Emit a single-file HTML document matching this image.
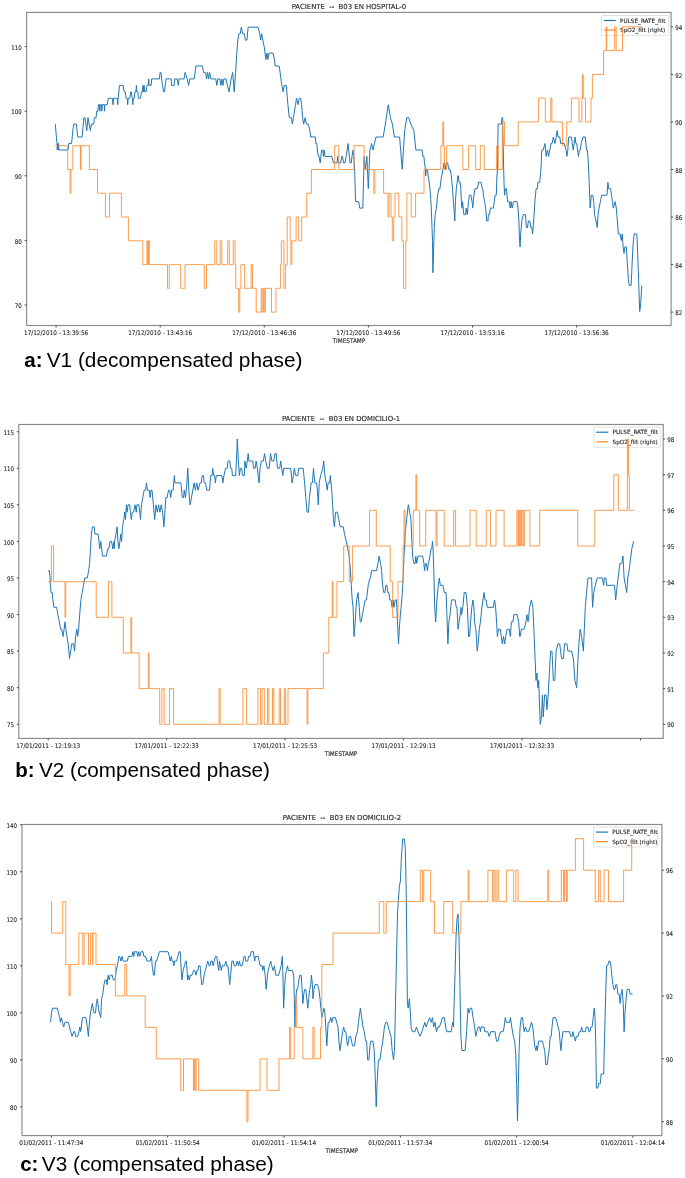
<!DOCTYPE html>
<html><head><meta charset="utf-8"><title>Figure</title>
<style>html,body{margin:0;padding:0;background:#fff;}svg{display:block;}</style></head>
<body>
<svg width="685" height="1178" viewBox="0 0 685 1178" font-family="'DejaVu Sans', 'Liberation Sans', sans-serif" fill="#222">
<rect width="685" height="1178" fill="#fff"/>
<g>
<clipPath id="c1"><rect x="26.6" y="12.4" width="644.5" height="313.1"/></clipPath>
<g clip-path="url(#c1)" fill="none" stroke-width="1.00" stroke-linejoin="round">
<path d="M55.3 124.1 L56.4 137.0 L57.0 143.5 L57.3 150.0 L57.7 143.5 L58.1 150.0 L58.5 143.5 L58.9 150.0 L60.5 150.0 L68.1 150.0 L68.7 143.5 L71.6 143.5 L72.8 130.6 L73.8 124.1 L76.3 124.1 L77.8 137.0 L82.1 137.0 L83.9 117.7 L85.0 117.7 L86.8 130.6 L88.0 117.7 L90.3 130.6 L91.5 124.1 L93.8 124.1 L94.4 117.7 L96.1 117.7 L96.7 111.2 L97.9 111.2 L98.5 104.7 L99.5 104.7 L99.8 111.2 L100.2 104.7 L101.5 104.7 L101.8 111.2 L102.3 104.7 L104.2 104.7 L104.5 111.2 L104.9 104.7 L107.2 104.7 L108.4 98.3 L112.5 98.3 L113.0 104.7 L113.5 98.3 L117.3 98.3 L117.7 104.7 L118.2 98.3 L119.5 85.4 L123.1 85.4 L124.1 91.8 L125.2 91.8 L126.2 98.3 L127.2 98.3 L127.7 104.7 L128.2 98.3 L129.8 98.3 L130.8 91.8 L131.3 91.8 L132.3 98.3 L132.8 104.7 L133.3 98.3 L134.3 98.3 L134.9 91.8 L135.9 91.8 L136.4 85.4 L136.9 91.8 L137.9 91.8 L138.4 98.3 L140.5 98.3 L141.5 91.8 L142.5 91.8 L143.0 85.4 L143.5 91.8 L144.1 85.4 L144.6 91.8 L146.1 91.8 L147.1 85.4 L148.1 85.4 L148.7 78.9 L149.2 85.4 L151.2 85.4 L151.7 78.9 L159.4 78.9 L160.1 72.4 L160.9 72.4 L161.7 78.9 L162.5 85.4 L163.5 91.8 L164.5 91.8 L165.2 85.4 L166.0 78.9 L166.8 78.9 L171.1 78.9 L171.6 85.4 L174.2 85.4 L174.7 78.9 L177.3 78.9 L178.3 85.4 L179.1 78.9 L180.0 78.9 L184.1 78.9 L185.1 72.4 L187.2 78.9 L188.6 85.4 L189.8 78.9 L194.3 78.9 L195.9 66.0 L197.4 66.0 L202.5 66.0 L203.5 72.4 L205.5 72.4 L206.6 78.9 L207.6 72.4 L208.6 78.9 L209.6 72.4 L210.7 78.9 L211.7 78.9 L215.8 78.9 L216.8 85.4 L217.8 78.9 L219.9 78.9 L220.9 85.4 L221.9 78.9 L222.9 85.4 L223.9 78.9 L226.0 78.9 L227.4 85.4 L229.0 91.8 L230.1 85.4 L231.1 78.9 L232.7 72.4 L234.2 91.8 L235.6 72.4 L236.8 53.1 L237.8 40.1 L238.9 33.7 L240.3 33.7 L241.3 27.2 L242.7 33.7 L244.4 33.7 L245.4 40.1 L247.0 40.1 L248.1 27.2 L258.1 27.2 L259.7 33.7 L260.7 40.1 L261.7 33.7 L262.8 40.1 L264.2 46.6 L265.8 59.5 L266.9 53.1 L267.9 59.5 L268.9 53.1 L273.0 53.1 L274.4 59.5 L275.2 66.0 L279.1 66.0 L280.1 72.4 L281.8 85.4 L283.2 91.8 L284.2 85.4 L286.3 85.4 L287.9 104.7 L289.3 117.7 L291.4 117.7 L292.4 124.1 L293.4 117.7 L295.5 104.7 L296.5 98.3 L298.1 104.7 L299.1 98.3 L300.6 98.3 L301.6 104.7 L302.6 117.7 L303.6 124.1 L305.1 117.7 L306.3 124.1 L308.3 124.1 L309.8 130.6 L310.7 137.0 L315.5 137.0 L315.8 143.5 L316.9 143.5 L317.3 150.0 L318.4 156.4 L319.1 156.4 L320.2 162.9 L320.9 156.4 L321.7 150.0 L322.8 150.0 L323.5 156.4 L324.2 150.0 L325.0 156.4 L331.9 156.4 L333.4 162.9 L337.0 162.9 L337.7 156.4 L338.5 162.9 L340.7 162.9 L341.8 156.4 L342.5 156.4 L343.6 162.9 L345.0 162.9 L346.1 156.4 L347.2 150.0 L348.0 143.5 L348.7 150.0 L349.4 156.4 L350.1 162.9 L351.2 162.9 L352.0 156.4 L353.1 150.0 L353.8 156.4 L354.6 169.3 L355.6 201.6 L358.7 201.6 L359.7 208.1 L362.8 208.1 L364.2 156.4 L365.4 169.3 L366.9 156.4 L368.3 188.7 L369.9 150.0 L371.6 143.5 L373.0 150.0 L374.4 143.5 L376.0 137.0 L383.2 137.0 L385.3 124.1 L388.3 104.7 L390.4 117.7 L392.4 124.1 L394.4 137.0 L399.6 137.0 L402.2 169.3 L404.7 130.6 L406.7 117.7 L408.8 117.7 L410.8 124.1 L413.9 130.6 L415.9 150.0 L420.0 150.0 L422.2 150.0 L422.8 156.4 L423.9 156.4 L424.5 162.9 L425.4 169.3 L425.7 175.8 L426.3 169.3 L427.5 169.3 L428.1 175.8 L429.3 182.3 L430.5 195.2 L431.3 208.1 L432.0 227.5 L432.5 240.4 L432.9 272.7 L433.5 253.3 L434.3 227.5 L435.2 214.6 L436.4 208.1 L437.0 201.6 L437.6 195.2 L438.8 188.7 L440.0 188.7 L440.6 182.3 L441.8 175.8 L443.0 169.3 L443.9 162.9 L444.7 162.9 L445.3 169.3 L446.5 162.9 L447.7 162.9 L448.7 169.3 L450.1 169.3 L451.3 175.8 L452.5 188.7 L453.4 201.6 L454.0 208.1 L454.8 221.0 L455.4 201.6 L456.3 188.7 L457.2 182.3 L457.8 175.8 L458.4 175.8 L459.0 182.3 L460.2 182.3 L460.8 188.7 L461.4 201.6 L462.0 208.1 L462.6 201.6 L463.2 208.1 L463.8 214.6 L465.5 214.6 L466.1 208.1 L467.3 214.6 L468.5 201.6 L469.3 195.2 L470.9 195.2 L472.1 201.6 L472.7 208.1 L473.3 201.6 L473.9 195.2 L475.0 188.7 L476.2 188.7 L477.4 188.7 L478.6 182.3 L481.0 182.3 L482.2 188.7 L482.8 188.7 L483.4 195.2 L484.6 201.6 L485.7 208.1 L486.7 221.0 L488.0 221.0 L488.3 214.6 L489.5 214.6 L490.3 208.1 L493.3 208.1 L494.3 201.6 L495.1 195.2 L496.3 195.2 L496.9 175.8 L497.5 169.3 L498.1 124.1 L499.3 124.1 L501.4 124.1 L502.0 117.7 L502.6 117.7 L503.1 143.5 L504.0 182.3 L504.6 195.2 L505.4 188.7 L506.4 188.7 L507.6 201.6 L509.4 201.6 L510.2 208.1 L511.1 201.6 L512.1 208.1 L513.5 201.6 L517.1 201.6 L518.0 208.1 L518.9 221.0 L519.5 240.4 L520.1 246.9 L520.7 233.9 L521.8 221.0 L523.3 214.6 L525.4 214.6 L526.4 227.5 L527.5 227.5 L528.4 221.0 L529.9 221.0 L530.8 227.5 L531.9 227.5 L532.5 233.9 L533.7 221.0 L534.9 201.6 L536.1 188.7 L537.3 188.7 L537.9 182.3 L539.7 182.3 L540.9 169.3 L541.8 150.0 L543.2 150.0 L545.0 143.5 L546.2 156.4 L547.4 150.0 L548.6 156.4 L549.8 150.0 L551.0 143.5 L552.1 143.5 L553.3 137.0 L555.0 143.5 L556.2 137.0 L557.1 130.6 L558.0 137.0 L559.8 137.0 L560.7 143.5 L564.3 143.5 L566.0 150.0 L566.9 156.4 L567.8 150.0 L568.7 137.0 L571.4 137.0 L572.3 143.5 L573.2 150.0 L574.1 143.5 L575.0 137.0 L575.8 143.5 L576.7 143.5 L577.6 150.0 L578.5 156.4 L579.4 150.0 L580.3 150.0 L581.2 143.5 L583.0 137.0 L585.3 137.0 L586.5 150.0 L587.4 150.0 L588.3 162.9 L589.2 182.3 L590.1 208.1 L591.4 195.2 L592.8 195.2 L593.7 201.6 L594.6 214.6 L596.0 221.0 L597.2 227.5 L598.1 214.6 L599.0 208.1 L600.4 201.6 L601.7 195.2 L607.0 195.2 L607.9 182.3 L608.8 188.7 L610.6 188.7 L611.5 195.2 L612.4 201.6 L613.3 208.1 L615.1 201.6 L616.3 208.1 L617.4 221.0 L618.3 233.9 L620.1 233.9 L621.3 240.4 L622.2 233.9 L623.1 246.9 L624.0 253.3 L624.9 246.9 L626.3 246.9 L627.5 266.2 L628.4 279.2 L629.3 285.6 L631.1 285.6 L632.0 266.2 L632.9 246.9 L634.1 233.9 L636.8 233.9 L637.7 253.3 L638.8 285.6 L639.7 311.5 L640.6 305.0 L641.8 285.6" stroke="#1f77b4"/>
</g>
<rect x="26.6" y="12.4" width="644.5" height="313.1" fill="none" stroke="#8a8a8a" stroke-width="1.15"/>
<line x1="24.6" y1="305.0" x2="26.6" y2="305.0" stroke="#2a2a2a" stroke-width="0.85"/>
<line x1="24.6" y1="240.4" x2="26.6" y2="240.4" stroke="#2a2a2a" stroke-width="0.85"/>
<line x1="24.6" y1="175.8" x2="26.6" y2="175.8" stroke="#2a2a2a" stroke-width="0.85"/>
<line x1="24.6" y1="111.2" x2="26.6" y2="111.2" stroke="#2a2a2a" stroke-width="0.85"/>
<line x1="24.6" y1="46.6" x2="26.6" y2="46.6" stroke="#2a2a2a" stroke-width="0.85"/>
<line x1="671.1" y1="312.1" x2="673.1" y2="312.1" stroke="#2a2a2a" stroke-width="0.85"/>
<line x1="671.1" y1="264.6" x2="673.1" y2="264.6" stroke="#2a2a2a" stroke-width="0.85"/>
<line x1="671.1" y1="217.0" x2="673.1" y2="217.0" stroke="#2a2a2a" stroke-width="0.85"/>
<line x1="671.1" y1="169.5" x2="673.1" y2="169.5" stroke="#2a2a2a" stroke-width="0.85"/>
<line x1="671.1" y1="121.9" x2="673.1" y2="121.9" stroke="#2a2a2a" stroke-width="0.85"/>
<line x1="671.1" y1="74.4" x2="673.1" y2="74.4" stroke="#2a2a2a" stroke-width="0.85"/>
<line x1="671.1" y1="26.8" x2="673.1" y2="26.8" stroke="#2a2a2a" stroke-width="0.85"/>
<line x1="56.1" y1="325.5" x2="56.1" y2="327.5" stroke="#2a2a2a" stroke-width="0.85"/>
<line x1="160.2" y1="325.5" x2="160.2" y2="327.5" stroke="#2a2a2a" stroke-width="0.85"/>
<line x1="264.3" y1="325.5" x2="264.3" y2="327.5" stroke="#2a2a2a" stroke-width="0.85"/>
<line x1="368.4" y1="325.5" x2="368.4" y2="327.5" stroke="#2a2a2a" stroke-width="0.85"/>
<line x1="472.5" y1="325.5" x2="472.5" y2="327.5" stroke="#2a2a2a" stroke-width="0.85"/>
<line x1="576.6" y1="325.5" x2="576.6" y2="327.5" stroke="#2a2a2a" stroke-width="0.85"/>
<rect x="601.4" y="15.5" width="67.4" height="19.9" rx="1.2" fill="#fff" fill-opacity="0.8" stroke="#ccc" stroke-width="0.6"/>
<line x1="603.8" y1="20.5" x2="615.8" y2="20.5" stroke="#1f77b4" stroke-width="1.2"/>
<line x1="603.8" y1="30.0" x2="615.8" y2="30.0" stroke="#fb8a2e" stroke-width="1.2"/>
</g>
<g>
<clipPath id="c2"><rect x="18.8" y="424.5" width="644.4" height="313.9"/></clipPath>
<g clip-path="url(#c2)" fill="none" stroke-width="1.00" stroke-linejoin="round">
<path d="M47.8 570.7 L49.3 570.7 L50.1 578.0 L50.4 585.3 L51.0 592.6 L52.3 592.6 L52.9 599.9 L53.9 607.3 L56.7 607.3 L57.8 614.6 L59.3 621.9 L60.6 629.2 L61.8 629.2 L63.1 636.5 L64.1 629.2 L65.0 621.9 L65.9 629.2 L66.9 636.5 L68.2 643.8 L69.5 658.5 L70.7 651.1 L71.8 643.8 L73.5 643.8 L74.6 651.1 L75.6 636.5 L76.9 629.2 L77.7 636.5 L78.6 629.2 L79.7 614.6 L80.9 599.9 L82.2 592.6 L83.5 585.3 L84.7 578.0 L87.3 578.0 L88.6 570.7 L89.6 563.4 L90.5 548.7 L91.4 534.1 L92.4 526.8 L93.4 526.8 L94.3 526.8 L94.9 534.1 L98.1 534.1 L99.0 541.4 L99.8 548.7 L100.7 541.4 L101.6 548.7 L102.6 556.1 L106.4 556.1 L107.7 548.7 L108.9 548.7 L110.0 541.4 L111.5 541.4 L112.8 548.7 L114.0 541.4 L114.1 548.7 L114.6 541.4 L115.9 534.1 L117.2 526.8 L117.9 541.4 L118.9 548.7 L119.9 541.4 L120.8 534.1 L121.6 541.4 L122.5 526.8 L123.8 519.5 L124.7 512.2 L125.5 519.5 L126.4 504.8 L127.1 512.2 L128.1 504.8 L129.7 504.8 L130.4 512.2 L131.3 519.5 L132.3 512.2 L133.6 512.2 L135.0 504.8 L136.3 512.2 L136.9 504.8 L138.9 504.8 L140.5 519.5 L141.5 504.8 L142.8 497.5 L144.2 490.2 L145.5 490.2 L146.5 482.9 L147.4 490.2 L149.4 490.2 L150.1 497.5 L151.0 490.2 L152.0 490.2 L153.4 504.8 L154.7 519.5 L156.0 504.8 L157.3 512.2 L158.6 504.8 L159.9 512.2 L161.2 504.8 L162.6 512.2 L163.9 526.8 L164.9 512.2 L165.8 497.5 L167.2 497.5 L168.5 490.2 L169.8 490.2 L170.7 497.5 L171.8 490.2 L173.1 490.2 L174.4 475.6 L175.0 482.9 L180.9 482.9 L182.3 497.5 L183.6 497.5 L184.2 490.2 L185.5 497.5 L186.9 482.9 L187.8 468.3 L188.8 490.2 L190.1 504.8 L191.5 497.5 L192.8 490.2 L194.1 482.9 L195.4 490.2 L196.7 482.9 L198.0 490.2 L200.0 482.9 L201.3 482.9 L202.2 475.6 L203.5 475.6 L204.2 482.9 L205.5 482.9 L206.8 490.2 L209.5 490.2 L210.8 475.6 L212.1 475.6 L212.7 468.3 L213.7 475.6 L214.7 475.6 L215.4 482.9 L216.3 475.6 L221.9 475.6 L222.9 482.9 L223.9 475.6 L225.5 468.3 L227.2 468.3 L228.1 461.0 L229.8 461.0 L230.5 468.3 L231.8 468.3 L232.4 475.6 L235.7 475.6 L236.4 461.0 L237.3 439.0 L238.4 461.0 L239.4 475.6 L240.3 468.3 L241.6 468.3 L242.6 475.6 L244.3 475.6 L244.9 461.0 L246.2 468.3 L247.3 461.0 L248.2 453.6 L248.9 461.0 L252.8 461.0 L253.5 468.3 L255.2 468.3 L256.1 461.0 L257.4 468.3 L258.1 475.6 L259.1 482.9 L260.0 468.3 L261.4 461.0 L263.3 461.0 L264.6 453.6 L265.7 461.0 L267.3 468.3 L269.2 468.3 L270.5 453.6 L271.9 461.0 L273.8 461.0 L274.9 453.6 L276.2 453.6 L277.5 468.3 L279.7 468.3 L280.7 461.0 L281.7 468.3 L282.8 475.6 L283.7 468.3 L285.0 468.3 L290.7 468.3 L292.1 482.9 L293.4 475.6 L294.3 468.3 L295.7 475.6 L297.8 475.6 L298.7 468.3 L303.2 468.3 L304.6 482.9 L305.8 497.5 L307.1 512.2 L308.5 512.2 L309.4 497.5 L311.2 482.9 L312.4 482.9 L313.5 468.3 L314.8 482.9 L316.5 482.9 L317.4 490.2 L318.3 504.8 L319.2 482.9 L320.6 475.6 L322.8 468.3 L323.7 461.0 L324.9 475.6 L326.3 482.9 L327.2 490.2 L328.1 482.9 L329.6 482.9 L330.3 475.6 L331.7 490.2 L332.6 504.8 L333.5 519.5 L334.4 526.8 L335.6 512.2 L337.4 512.2 L338.8 519.5 L340.2 526.8 L343.3 526.8 L344.5 534.1 L346.3 541.4 L347.7 548.7 L349.2 556.1 L350.4 570.7 L351.3 585.3 L352.2 599.9 L353.1 607.3 L354.0 636.5 L355.2 621.9 L356.6 599.9 L358.1 592.6 L359.3 607.3 L360.2 621.9 L361.1 621.9 L362.4 614.6 L363.8 607.3 L365.2 599.9 L366.5 599.9 L368.2 585.3 L370.0 578.0 L370.5 578.0 L371.5 570.7 L376.5 570.7 L378.0 563.4 L379.1 556.1 L380.6 563.4 L381.6 570.7 L382.6 585.3 L383.8 592.6 L384.9 592.6 L385.9 585.3 L386.9 585.3 L387.8 592.6 L388.8 592.6 L389.8 599.9 L391.0 599.9 L392.1 607.3 L393.1 599.9 L393.9 607.3 L395.3 599.9 L396.5 599.9 L397.5 621.9 L398.5 643.8 L399.3 629.2 L400.4 614.6 L401.8 599.9 L402.8 585.3 L404.0 556.1 L405.1 534.1 L406.6 519.5 L408.3 504.8 L409.7 512.2 L410.9 519.5 L411.9 541.4 L412.6 556.1 L413.8 563.4 L415.2 563.4 L415.8 556.1 L416.7 563.4 L418.1 556.1 L422.7 556.1 L423.9 563.4 L424.5 570.7 L425.3 563.4 L426.3 563.4 L427.3 570.7 L428.5 563.4 L429.9 556.1 L431.1 548.7 L431.7 548.7 L432.5 541.4 L433.1 548.7 L434.0 578.0 L434.7 607.3 L435.7 621.9 L436.9 599.9 L438.3 585.3 L439.3 578.0 L440.3 585.3 L442.9 585.3 L444.4 592.6 L446.1 592.6 L446.9 614.6 L447.9 643.8 L448.9 621.9 L450.1 614.6 L451.5 599.9 L455.2 599.9 L456.2 607.3 L457.0 607.3 L458.0 629.2 L459.1 621.9 L460.2 614.6 L460.9 607.3 L461.6 614.6 L462.8 607.3 L464.2 592.6 L466.0 592.6 L467.4 607.3 L468.6 636.5 L469.6 636.5 L470.6 621.9 L471.8 607.3 L472.9 599.9 L473.9 607.3 L474.6 621.9 L475.8 629.2 L476.4 636.5 L477.2 651.1 L478.2 643.8 L479.3 629.2 L480.4 621.9 L481.9 607.3 L483.0 599.9 L484.0 592.6 L485.0 599.9 L486.2 599.9 L487.3 607.3 L493.4 607.3 L494.6 599.9 L495.6 607.3 L496.6 621.9 L497.4 636.5 L498.4 629.2 L500.3 629.2 L501.3 636.5 L502.3 643.8 L503.5 636.5 L504.7 643.8 L505.7 636.5 L507.1 629.2 L509.3 629.2 L510.4 636.5 L511.4 621.9 L512.9 621.9 L513.9 614.6 L517.2 614.6 L518.7 621.9 L519.7 636.5 L520.1 636.5 L521.4 629.2 L524.1 629.2 L525.9 621.9 L526.9 614.6 L528.1 621.9 L529.6 607.3 L531.4 599.9 L532.9 607.3 L534.2 636.5 L535.1 658.5 L536.0 680.4 L536.9 673.1 L537.8 687.7 L538.7 680.4 L540.2 724.3 L541.5 717.0 L542.4 695.0 L543.3 717.0 L544.6 695.0 L546.0 695.0 L546.9 709.7 L548.2 695.0 L549.3 673.1 L550.6 651.1 L552.0 651.1 L553.3 680.4 L554.8 680.4 L556.1 651.1 L557.9 643.8 L559.7 643.8 L561.5 658.5 L563.4 658.5 L564.6 643.8 L567.0 643.8 L567.9 651.1 L571.6 651.1 L573.4 658.5 L574.9 680.4 L576.7 687.7 L578.0 658.5 L578.9 643.8 L580.1 629.2 L581.6 636.5 L583.4 651.1 L584.3 629.2 L585.3 607.3 L586.5 592.6 L588.0 578.0 L591.6 578.0 L592.6 607.3 L593.8 592.6 L595.3 585.3 L597.1 578.0 L602.6 578.0 L603.5 585.3 L604.4 578.0 L605.9 578.0 L606.6 585.3 L614.5 585.3 L615.7 599.9 L617.2 585.3 L619.0 570.7 L619.9 563.4 L621.8 563.4 L623.0 556.1 L624.1 578.0 L625.4 585.3 L626.7 592.6 L627.8 578.0 L629.1 570.7 L630.0 563.4 L631.8 548.7 L633.6 541.4" stroke="#1f77b4"/>
</g>
<rect x="18.8" y="424.5" width="644.4" height="313.9" fill="none" stroke="#8a8a8a" stroke-width="1.15"/>
<line x1="16.8" y1="724.3" x2="18.8" y2="724.3" stroke="#2a2a2a" stroke-width="0.85"/>
<line x1="16.8" y1="687.7" x2="18.8" y2="687.7" stroke="#2a2a2a" stroke-width="0.85"/>
<line x1="16.8" y1="651.1" x2="18.8" y2="651.1" stroke="#2a2a2a" stroke-width="0.85"/>
<line x1="16.8" y1="614.6" x2="18.8" y2="614.6" stroke="#2a2a2a" stroke-width="0.85"/>
<line x1="16.8" y1="578.0" x2="18.8" y2="578.0" stroke="#2a2a2a" stroke-width="0.85"/>
<line x1="16.8" y1="541.4" x2="18.8" y2="541.4" stroke="#2a2a2a" stroke-width="0.85"/>
<line x1="16.8" y1="504.8" x2="18.8" y2="504.8" stroke="#2a2a2a" stroke-width="0.85"/>
<line x1="16.8" y1="468.3" x2="18.8" y2="468.3" stroke="#2a2a2a" stroke-width="0.85"/>
<line x1="16.8" y1="431.7" x2="18.8" y2="431.7" stroke="#2a2a2a" stroke-width="0.85"/>
<line x1="663.2" y1="724.3" x2="665.2" y2="724.3" stroke="#2a2a2a" stroke-width="0.85"/>
<line x1="663.2" y1="688.6" x2="665.2" y2="688.6" stroke="#2a2a2a" stroke-width="0.85"/>
<line x1="663.2" y1="653.0" x2="665.2" y2="653.0" stroke="#2a2a2a" stroke-width="0.85"/>
<line x1="663.2" y1="617.3" x2="665.2" y2="617.3" stroke="#2a2a2a" stroke-width="0.85"/>
<line x1="663.2" y1="581.7" x2="665.2" y2="581.7" stroke="#2a2a2a" stroke-width="0.85"/>
<line x1="663.2" y1="546.0" x2="665.2" y2="546.0" stroke="#2a2a2a" stroke-width="0.85"/>
<line x1="663.2" y1="510.3" x2="665.2" y2="510.3" stroke="#2a2a2a" stroke-width="0.85"/>
<line x1="663.2" y1="474.7" x2="665.2" y2="474.7" stroke="#2a2a2a" stroke-width="0.85"/>
<line x1="663.2" y1="439.0" x2="665.2" y2="439.0" stroke="#2a2a2a" stroke-width="0.85"/>
<line x1="48.2" y1="738.4" x2="48.2" y2="740.4" stroke="#2a2a2a" stroke-width="0.85"/>
<line x1="166.7" y1="738.4" x2="166.7" y2="740.4" stroke="#2a2a2a" stroke-width="0.85"/>
<line x1="285.1" y1="738.4" x2="285.1" y2="740.4" stroke="#2a2a2a" stroke-width="0.85"/>
<line x1="403.6" y1="738.4" x2="403.6" y2="740.4" stroke="#2a2a2a" stroke-width="0.85"/>
<line x1="522.0" y1="738.4" x2="522.0" y2="740.4" stroke="#2a2a2a" stroke-width="0.85"/>
<line x1="640.5" y1="738.4" x2="640.5" y2="740.4" stroke="#2a2a2a" stroke-width="0.85"/>
<rect x="593.9" y="427.1" width="66.5" height="20.2" rx="1.2" fill="#fff" fill-opacity="0.8" stroke="#ccc" stroke-width="0.6"/>
<line x1="596.3" y1="432.2" x2="608.3" y2="432.2" stroke="#1f77b4" stroke-width="1.2"/>
<line x1="596.3" y1="441.8" x2="608.3" y2="441.8" stroke="#fb8a2e" stroke-width="1.2"/>
</g>
<g>
<clipPath id="c3"><rect x="22.0" y="824.5" width="639.9" height="311.1"/></clipPath>
<g clip-path="url(#c3)" fill="none" stroke-width="1.00" stroke-linejoin="round">
<path d="M50.6 1022.3 L51.4 1012.9 L52.6 1008.2 L57.3 1008.2 L58.4 1012.9 L59.6 1017.6 L60.4 1022.3 L61.4 1017.6 L62.5 1022.3 L63.7 1027.0 L64.9 1022.3 L68.4 1022.3 L69.5 1027.0 L70.7 1031.7 L72.1 1036.4 L73.6 1031.7 L74.8 1031.7 L75.6 1036.4 L77.7 1036.4 L78.9 1031.7 L79.8 1027.0 L80.6 1031.7 L81.4 1027.0 L82.4 1017.6 L85.9 1017.6 L87.3 1027.0 L88.4 1036.4 L89.4 1022.3 L90.5 1012.9 L91.5 1008.2 L92.3 1003.5 L93.1 1008.2 L94.1 1012.9 L95.5 1012.9 L96.4 1003.5 L97.3 998.8 L98.5 1008.2 L99.3 1012.9 L100.8 1017.6 L101.6 998.8 L102.8 994.1 L104.0 984.6 L105.1 979.9 L106.3 979.9 L107.1 984.6 L108.1 975.2 L109.2 979.9 L110.2 975.2 L112.2 975.2 L113.3 979.9 L115.1 979.9 L116.2 970.5 L117.4 965.8 L118.8 956.4 L119.7 956.4 L120.9 961.1 L122.1 956.4 L123.2 961.1 L125.0 961.1 L127.2 961.1 L128.5 956.4 L131.8 956.4 L132.9 951.7 L133.8 956.4 L134.5 951.7 L136.8 951.7 L137.7 956.4 L138.7 951.7 L139.7 956.4 L141.0 951.7 L143.0 951.7 L143.9 956.4 L145.6 956.4 L146.9 961.1 L150.2 961.1 L151.5 956.4 L152.2 965.8 L153.5 975.2 L154.4 975.2 L155.5 961.1 L156.8 961.1 L158.1 956.4 L159.4 951.7 L168.0 951.7 L169.3 956.4 L170.2 961.1 L171.2 956.4 L172.3 961.1 L173.2 961.1 L173.9 965.8 L174.5 961.1 L176.5 961.1 L177.8 956.4 L179.1 951.7 L180.2 951.7 L180.7 961.1 L181.5 975.2 L182.0 979.9 L183.1 970.5 L184.4 965.8 L185.7 961.1 L186.4 961.1 L187.0 970.5 L187.7 979.9 L188.3 975.2 L189.4 979.9 L190.3 975.2 L192.0 975.2 L193.6 970.5 L194.9 970.5 L195.9 975.2 L196.9 970.5 L197.8 970.5 L198.8 965.8 L200.1 965.8 L200.8 975.2 L201.7 984.6 L202.8 984.6 L204.1 975.2 L205.4 970.5 L206.5 965.8 L207.8 961.1 L209.1 965.8 L210.0 965.8 L210.9 961.1 L212.2 961.1 L213.1 965.8 L214.2 961.1 L215.5 956.4 L216.8 956.4 L217.9 965.8 L218.8 970.5 L219.5 961.1 L220.5 965.8 L221.4 970.5 L222.1 965.8 L224.7 965.8 L225.8 961.1 L226.7 965.8 L228.0 965.8 L228.9 975.2 L229.7 984.6 L230.6 975.2 L231.9 961.1 L233.2 961.1 L234.2 965.8 L235.9 965.8 L237.2 961.1 L238.5 965.8 L239.4 961.1 L240.5 965.8 L242.1 965.8 L243.1 961.1 L244.2 956.4 L245.1 956.4 L245.7 961.1 L247.7 961.1 L248.6 956.4 L250.3 956.4 L251.2 951.7 L253.4 951.7 L254.7 961.1 L255.6 956.4 L258.2 956.4 L259.1 961.1 L260.2 965.8 L262.2 965.8 L262.8 970.5 L263.9 965.8 L265.2 975.2 L266.1 989.4 L267.0 979.9 L268.1 970.5 L269.4 965.8 L270.7 961.1 L271.7 965.8 L273.1 970.5 L274.4 965.8 L275.9 975.2 L278.6 975.2 L279.9 970.5 L281.2 965.8 L282.3 956.4 L282.8 970.5 L283.6 1008.2 L284.5 989.4 L285.4 975.2 L286.5 970.5 L287.5 965.8 L288.4 970.5 L292.4 970.5 L293.7 975.2 L294.3 998.8 L295.0 1027.0 L295.0 1027.0 L295.9 998.8 L296.6 989.4 L297.6 989.4 L298.9 979.9 L299.9 975.2 L301.2 975.2 L302.1 989.4 L302.9 1003.5 L303.8 994.1 L304.7 989.4 L305.8 989.4 L306.8 998.8 L307.8 1008.2 L308.7 998.8 L309.7 989.4 L310.8 984.6 L311.4 975.2 L312.4 984.6 L313.0 998.8 L313.9 989.4 L315.0 984.6 L317.6 984.6 L318.9 989.4 L320.0 998.8 L320.9 1008.2 L321.8 1017.6 L322.9 1012.9 L323.9 1008.2 L324.9 1012.9 L325.8 1027.0 L326.8 1045.8 L328.2 1022.3 L329.5 1022.3 L330.8 1017.6 L331.8 1022.3 L332.8 1017.6 L335.4 1017.6 L336.7 1022.3 L338.0 1027.0 L338.9 1041.1 L340.0 1050.5 L341.3 1041.1 L342.6 1031.7 L343.7 1027.0 L344.6 1031.7 L345.9 1031.7 L346.8 1041.1 L347.6 1045.8 L348.6 1041.1 L349.2 1036.4 L350.5 1036.4 L351.6 1041.1 L352.5 1045.8 L354.5 1045.8 L355.8 1036.4 L357.4 1031.7 L358.4 1022.3 L360.4 1008.2 L361.7 1017.6 L363.0 1027.0 L364.3 1031.7 L365.7 1041.1 L366.6 1041.1 L367.6 1059.9 L368.9 1059.9 L370.0 1045.8 L370.9 1041.1 L372.9 1041.1 L374.2 1050.5 L375.3 1078.7 L376.2 1106.9 L377.1 1083.4 L378.4 1059.9 L380.0 1059.9 L381.2 1050.5 L382.8 1041.1 L384.4 1027.0 L385.7 1022.3 L387.1 1022.3 L388.3 1027.0 L389.6 1031.7 L391.0 1036.4 L392.2 1050.5 L393.5 1059.9 L394.5 1050.5 L395.5 1003.5 L396.5 956.4 L397.5 914.1 L398.4 900.0 L399.4 885.9 L400.4 881.2 L401.4 857.7 L402.7 838.9 L404.3 838.9 L405.3 848.3 L406.2 890.6 L406.8 947.0 L407.4 1003.5 L408.2 1008.2 L409.4 998.8 L410.1 1008.2 L411.1 1027.0 L412.5 1031.7 L415.0 1031.7 L416.4 1027.0 L418.0 1031.7 L419.9 1036.4 L421.9 1031.7 L423.4 1027.0 L424.8 1022.3 L426.2 1027.0 L427.7 1022.3 L429.7 1017.6 L431.2 1022.3 L432.6 1017.6 L433.6 1027.0 L435.1 1022.3 L436.5 1031.7 L437.9 1027.0 L439.4 1027.0 L441.0 1022.3 L442.4 1017.6 L444.3 1017.6 L445.7 1027.0 L446.8 1031.7 L451.1 1031.7 L452.7 1022.3 L453.5 1027.0 L454.1 1003.5 L455.0 975.2 L456.0 937.6 L457.0 918.8 L458.0 914.1 L459.0 937.6 L459.9 984.6 L460.9 1036.4 L461.9 1050.5 L465.0 1050.5 L465.1 1050.5 L466.6 1031.7 L468.0 1008.2 L469.1 1012.9 L470.2 1008.2 L471.7 1008.2 L473.1 1017.6 L474.6 1027.0 L475.8 1036.4 L476.8 1031.7 L478.2 1027.0 L479.7 1027.0 L480.4 1031.7 L481.2 1027.0 L484.1 1027.0 L484.8 1031.7 L486.3 1031.7 L487.7 1031.7 L489.2 1036.4 L490.7 1031.7 L495.0 1031.7 L496.5 1041.1 L498.0 1041.1 L499.1 1036.4 L500.6 1031.7 L503.1 1031.7 L504.1 1027.0 L505.3 1017.6 L506.4 1022.3 L509.6 1022.3 L510.4 1017.6 L511.8 1027.0 L513.3 1036.4 L514.7 1041.1 L515.8 1055.2 L516.6 1083.4 L517.5 1121.0 L518.4 1083.4 L519.1 1050.5 L520.1 1027.0 L521.3 1017.6 L522.5 1017.6 L523.5 1027.0 L524.2 1031.7 L525.4 1027.0 L526.9 1031.7 L528.6 1031.7 L530.1 1027.0 L531.5 1022.3 L532.7 1027.0 L533.7 1036.4 L534.7 1045.8 L535.9 1050.5 L536.6 1045.8 L537.4 1050.5 L538.5 1041.1 L542.5 1041.1 L543.5 1045.8 L544.7 1050.5 L545.8 1064.6 L547.3 1064.6 L548.3 1055.2 L549.1 1050.5 L550.2 1036.4 L551.2 1036.4 L552.0 1027.0 L553.1 1017.6 L555.6 1017.6 L557.1 1022.3 L558.1 1027.0 L559.3 1031.7 L560.0 1041.1 L560.9 1050.5 L561.8 1041.1 L562.9 1031.7 L564.2 1031.7 L569.5 1031.7 L570.8 1036.4 L572.1 1036.4 L572.8 1031.7 L574.1 1036.4 L575.4 1041.1 L576.3 1036.4 L578.0 1036.4 L579.3 1031.7 L580.7 1031.7 L581.6 1027.0 L582.6 1031.7 L585.3 1031.7 L586.3 1027.0 L587.9 1027.0 L588.9 1031.7 L589.9 1031.7 L590.8 1027.0 L592.1 1027.0 L593.2 1017.6 L594.2 1008.2 L595.1 1017.6 L595.8 1045.8 L596.4 1088.1 L597.8 1088.1 L598.7 1083.4 L600.4 1083.4 L601.1 1074.0 L603.7 1074.0 L604.7 1031.7 L605.7 994.1 L606.6 965.8 L607.6 965.8 L608.9 961.1 L610.0 961.1 L610.9 965.8 L611.8 975.2 L612.9 984.6 L613.9 989.4 L614.9 989.4 L615.8 984.6 L616.8 984.6 L617.9 994.1 L619.2 994.1 L620.1 1003.5 L621.1 994.1 L622.1 989.4 L623.2 1003.5 L624.1 1031.7 L625.0 1012.9 L626.1 998.8 L627.1 989.4 L629.3 989.4 L630.3 994.1 L632.6 994.1" stroke="#1f77b4"/>
</g>
<rect x="22.0" y="824.5" width="639.9" height="311.1" fill="none" stroke="#8a8a8a" stroke-width="1.15"/>
<line x1="20.0" y1="1106.9" x2="22.0" y2="1106.9" stroke="#2a2a2a" stroke-width="0.85"/>
<line x1="20.0" y1="1059.9" x2="22.0" y2="1059.9" stroke="#2a2a2a" stroke-width="0.85"/>
<line x1="20.0" y1="1012.9" x2="22.0" y2="1012.9" stroke="#2a2a2a" stroke-width="0.85"/>
<line x1="20.0" y1="965.8" x2="22.0" y2="965.8" stroke="#2a2a2a" stroke-width="0.85"/>
<line x1="20.0" y1="918.8" x2="22.0" y2="918.8" stroke="#2a2a2a" stroke-width="0.85"/>
<line x1="20.0" y1="871.8" x2="22.0" y2="871.8" stroke="#2a2a2a" stroke-width="0.85"/>
<line x1="20.0" y1="824.8" x2="22.0" y2="824.8" stroke="#2a2a2a" stroke-width="0.85"/>
<line x1="661.9" y1="1121.7" x2="663.9" y2="1121.7" stroke="#2a2a2a" stroke-width="0.85"/>
<line x1="661.9" y1="1058.8" x2="663.9" y2="1058.8" stroke="#2a2a2a" stroke-width="0.85"/>
<line x1="661.9" y1="995.9" x2="663.9" y2="995.9" stroke="#2a2a2a" stroke-width="0.85"/>
<line x1="661.9" y1="933.1" x2="663.9" y2="933.1" stroke="#2a2a2a" stroke-width="0.85"/>
<line x1="661.9" y1="870.2" x2="663.9" y2="870.2" stroke="#2a2a2a" stroke-width="0.85"/>
<line x1="51.4" y1="1135.6" x2="51.4" y2="1137.6" stroke="#2a2a2a" stroke-width="0.85"/>
<line x1="167.7" y1="1135.6" x2="167.7" y2="1137.6" stroke="#2a2a2a" stroke-width="0.85"/>
<line x1="284.0" y1="1135.6" x2="284.0" y2="1137.6" stroke="#2a2a2a" stroke-width="0.85"/>
<line x1="400.3" y1="1135.6" x2="400.3" y2="1137.6" stroke="#2a2a2a" stroke-width="0.85"/>
<line x1="516.6" y1="1135.6" x2="516.6" y2="1137.6" stroke="#2a2a2a" stroke-width="0.85"/>
<line x1="632.9" y1="1135.6" x2="632.9" y2="1137.6" stroke="#2a2a2a" stroke-width="0.85"/>
<rect x="593.5" y="827.1" width="64.3" height="19.9" rx="1.2" fill="#fff" fill-opacity="0.8" stroke="#ccc" stroke-width="0.6"/>
<line x1="595.9" y1="832.1" x2="607.9" y2="832.1" stroke="#1f77b4" stroke-width="1.2"/>
<line x1="595.9" y1="841.6" x2="607.9" y2="841.6" stroke="#fb8a2e" stroke-width="1.2"/>
</g>
<g fill="#1a1a1a" stroke="#1a1a1a" stroke-width="0.1">
<text x="21.7" y="308.1" font-size="6.30" text-anchor="end" textLength="7.00" lengthAdjust="spacingAndGlyphs">70</text>
<text x="21.7" y="243.5" font-size="6.30" text-anchor="end" textLength="7.00" lengthAdjust="spacingAndGlyphs">80</text>
<text x="21.7" y="178.9" font-size="6.30" text-anchor="end" textLength="7.00" lengthAdjust="spacingAndGlyphs">90</text>
<text x="21.7" y="114.3" font-size="6.30" text-anchor="end" textLength="10.50" lengthAdjust="spacingAndGlyphs">100</text>
<text x="21.7" y="49.7" font-size="6.30" text-anchor="end" textLength="10.50" lengthAdjust="spacingAndGlyphs">110</text>
<text x="675.2" y="315.2" font-size="6.30" text-anchor="start" textLength="7.00" lengthAdjust="spacingAndGlyphs">82</text>
<text x="675.2" y="267.7" font-size="6.30" text-anchor="start" textLength="7.00" lengthAdjust="spacingAndGlyphs">84</text>
<text x="675.2" y="220.1" font-size="6.30" text-anchor="start" textLength="7.00" lengthAdjust="spacingAndGlyphs">86</text>
<text x="675.2" y="172.6" font-size="6.30" text-anchor="start" textLength="7.00" lengthAdjust="spacingAndGlyphs">88</text>
<text x="675.2" y="125.0" font-size="6.30" text-anchor="start" textLength="7.00" lengthAdjust="spacingAndGlyphs">90</text>
<text x="675.2" y="77.5" font-size="6.30" text-anchor="start" textLength="7.00" lengthAdjust="spacingAndGlyphs">92</text>
<text x="675.2" y="29.9" font-size="6.30" text-anchor="start" textLength="7.00" lengthAdjust="spacingAndGlyphs">94</text>
<text x="56.1" y="334.6" font-size="6.30" text-anchor="middle" textLength="64.13" lengthAdjust="spacingAndGlyphs">17/12/2010 - 13:39:56</text>
<text x="160.2" y="334.6" font-size="6.30" text-anchor="middle" textLength="64.13" lengthAdjust="spacingAndGlyphs">17/12/2010 - 13:43:16</text>
<text x="264.3" y="334.6" font-size="6.30" text-anchor="middle" textLength="64.13" lengthAdjust="spacingAndGlyphs">17/12/2010 - 13:46:36</text>
<text x="368.4" y="334.6" font-size="6.30" text-anchor="middle" textLength="64.13" lengthAdjust="spacingAndGlyphs">17/12/2010 - 13:49:56</text>
<text x="472.5" y="334.6" font-size="6.30" text-anchor="middle" textLength="64.13" lengthAdjust="spacingAndGlyphs">17/12/2010 - 13:53:16</text>
<text x="576.6" y="334.6" font-size="6.30" text-anchor="middle" textLength="64.13" lengthAdjust="spacingAndGlyphs">17/12/2010 - 13:56:36</text>
<text x="348.9" y="343.3" font-size="6.30" text-anchor="middle" textLength="32.59" lengthAdjust="spacingAndGlyphs">TIMESTAMP</text>
<text x="348.9" y="8.6" font-size="6.90" text-anchor="middle" xml:space="preserve">PACIENTE  --  B03 EN HOSPITAL-0</text>
<text x="620.1" y="22.5" font-size="5.70" text-anchor="start">PULSE_RATE_filt</text>
<text x="620.1" y="32.0" font-size="5.70" text-anchor="start">SpO2_filt (right)</text>
<text x="13.9" y="727.4" font-size="6.30" text-anchor="end" textLength="7.00" lengthAdjust="spacingAndGlyphs">75</text>
<text x="13.9" y="690.8" font-size="6.30" text-anchor="end" textLength="7.00" lengthAdjust="spacingAndGlyphs">80</text>
<text x="13.9" y="654.2" font-size="6.30" text-anchor="end" textLength="7.00" lengthAdjust="spacingAndGlyphs">85</text>
<text x="13.9" y="617.7" font-size="6.30" text-anchor="end" textLength="7.00" lengthAdjust="spacingAndGlyphs">90</text>
<text x="13.9" y="581.1" font-size="6.30" text-anchor="end" textLength="7.00" lengthAdjust="spacingAndGlyphs">95</text>
<text x="13.9" y="544.5" font-size="6.30" text-anchor="end" textLength="10.50" lengthAdjust="spacingAndGlyphs">100</text>
<text x="13.9" y="507.9" font-size="6.30" text-anchor="end" textLength="10.50" lengthAdjust="spacingAndGlyphs">105</text>
<text x="13.9" y="471.4" font-size="6.30" text-anchor="end" textLength="10.50" lengthAdjust="spacingAndGlyphs">110</text>
<text x="13.9" y="434.8" font-size="6.30" text-anchor="end" textLength="10.50" lengthAdjust="spacingAndGlyphs">115</text>
<text x="667.3" y="727.4" font-size="6.30" text-anchor="start" textLength="7.00" lengthAdjust="spacingAndGlyphs">90</text>
<text x="667.3" y="691.7" font-size="6.30" text-anchor="start" textLength="7.00" lengthAdjust="spacingAndGlyphs">91</text>
<text x="667.3" y="656.1" font-size="6.30" text-anchor="start" textLength="7.00" lengthAdjust="spacingAndGlyphs">92</text>
<text x="667.3" y="620.4" font-size="6.30" text-anchor="start" textLength="7.00" lengthAdjust="spacingAndGlyphs">93</text>
<text x="667.3" y="584.8" font-size="6.30" text-anchor="start" textLength="7.00" lengthAdjust="spacingAndGlyphs">94</text>
<text x="667.3" y="549.1" font-size="6.30" text-anchor="start" textLength="7.00" lengthAdjust="spacingAndGlyphs">95</text>
<text x="667.3" y="513.4" font-size="6.30" text-anchor="start" textLength="7.00" lengthAdjust="spacingAndGlyphs">96</text>
<text x="667.3" y="477.8" font-size="6.30" text-anchor="start" textLength="7.00" lengthAdjust="spacingAndGlyphs">97</text>
<text x="667.3" y="442.1" font-size="6.30" text-anchor="start" textLength="7.00" lengthAdjust="spacingAndGlyphs">98</text>
<text x="48.2" y="747.5" font-size="6.30" text-anchor="middle" textLength="64.13" lengthAdjust="spacingAndGlyphs">17/01/2011 - 12:19:13</text>
<text x="166.7" y="747.5" font-size="6.30" text-anchor="middle" textLength="64.13" lengthAdjust="spacingAndGlyphs">17/01/2011 - 12:22:33</text>
<text x="285.1" y="747.5" font-size="6.30" text-anchor="middle" textLength="64.13" lengthAdjust="spacingAndGlyphs">17/01/2011 - 12:25:53</text>
<text x="403.6" y="747.5" font-size="6.30" text-anchor="middle" textLength="64.13" lengthAdjust="spacingAndGlyphs">17/01/2011 - 12:29:13</text>
<text x="522.0" y="747.5" font-size="6.30" text-anchor="middle" textLength="64.13" lengthAdjust="spacingAndGlyphs">17/01/2011 - 12:32:33</text>
<text x="341.0" y="756.2" font-size="6.30" text-anchor="middle" textLength="32.59" lengthAdjust="spacingAndGlyphs">TIMESTAMP</text>
<text x="341.0" y="421.0" font-size="6.90" text-anchor="middle" xml:space="preserve">PACIENTE  --  B03 EN DOMICILIO-1</text>
<text x="612.6" y="434.2" font-size="5.70" text-anchor="start">PULSE_RATE_filt</text>
<text x="612.6" y="443.8" font-size="5.70" text-anchor="start">SpO2_filt (right)</text>
<text x="17.1" y="1110.0" font-size="6.30" text-anchor="end" textLength="7.00" lengthAdjust="spacingAndGlyphs">80</text>
<text x="17.1" y="1063.0" font-size="6.30" text-anchor="end" textLength="7.00" lengthAdjust="spacingAndGlyphs">90</text>
<text x="17.1" y="1016.0" font-size="6.30" text-anchor="end" textLength="10.50" lengthAdjust="spacingAndGlyphs">100</text>
<text x="17.1" y="968.9" font-size="6.30" text-anchor="end" textLength="10.50" lengthAdjust="spacingAndGlyphs">110</text>
<text x="17.1" y="921.9" font-size="6.30" text-anchor="end" textLength="10.50" lengthAdjust="spacingAndGlyphs">120</text>
<text x="17.1" y="874.9" font-size="6.30" text-anchor="end" textLength="10.50" lengthAdjust="spacingAndGlyphs">130</text>
<text x="17.1" y="827.9" font-size="6.30" text-anchor="end" textLength="10.50" lengthAdjust="spacingAndGlyphs">140</text>
<text x="666.0" y="1124.8" font-size="6.30" text-anchor="start" textLength="7.00" lengthAdjust="spacingAndGlyphs">88</text>
<text x="666.0" y="1061.9" font-size="6.30" text-anchor="start" textLength="7.00" lengthAdjust="spacingAndGlyphs">90</text>
<text x="666.0" y="999.0" font-size="6.30" text-anchor="start" textLength="7.00" lengthAdjust="spacingAndGlyphs">92</text>
<text x="666.0" y="936.2" font-size="6.30" text-anchor="start" textLength="7.00" lengthAdjust="spacingAndGlyphs">94</text>
<text x="666.0" y="873.3" font-size="6.30" text-anchor="start" textLength="7.00" lengthAdjust="spacingAndGlyphs">96</text>
<text x="51.4" y="1144.7" font-size="6.30" text-anchor="middle" textLength="64.13" lengthAdjust="spacingAndGlyphs">01/02/2011 - 11:47:34</text>
<text x="167.7" y="1144.7" font-size="6.30" text-anchor="middle" textLength="64.13" lengthAdjust="spacingAndGlyphs">01/02/2011 - 11:50:54</text>
<text x="284.0" y="1144.7" font-size="6.30" text-anchor="middle" textLength="64.13" lengthAdjust="spacingAndGlyphs">01/02/2011 - 11:54:14</text>
<text x="400.3" y="1144.7" font-size="6.30" text-anchor="middle" textLength="64.13" lengthAdjust="spacingAndGlyphs">01/02/2011 - 11:57:34</text>
<text x="516.6" y="1144.7" font-size="6.30" text-anchor="middle" textLength="64.13" lengthAdjust="spacingAndGlyphs">01/02/2011 - 12:00:54</text>
<text x="632.9" y="1144.7" font-size="6.30" text-anchor="middle" textLength="64.13" lengthAdjust="spacingAndGlyphs">01/02/2011 - 12:04:14</text>
<text x="341.9" y="1153.4" font-size="6.30" text-anchor="middle" textLength="32.59" lengthAdjust="spacingAndGlyphs">TIMESTAMP</text>
<text x="341.9" y="820.4" font-size="6.90" text-anchor="middle" xml:space="preserve">PACIENTE  --  B03 EN DOMICILIO-2</text>
<text x="612.2" y="834.1" font-size="5.70" text-anchor="start">PULSE_RATE_filt</text>
<text x="612.2" y="843.6" font-size="5.70" text-anchor="start">SpO2_filt (right)</text>
</g>
<path d="M54.9 145.7 H67.7 V169.5 H70.1 V193.2 H70.9 V169.5 H72.8 V145.7 H80.4 V169.5 H81.2 V145.7 H89.4 V169.5 H97.5 V193.2 H105.4 V217.0 H109.5 V193.2 H121.4 V217.0 H128.4 V240.8 H142.8 V264.6 H146.9 V240.8 H147.7 V264.6 H148.5 V240.8 H149.3 V264.6 H167.5 V288.3 H169.3 V264.6 H180.7 V288.3 H185.0 V264.6 H204.3 V288.3 H206.5 V264.6 H214.8 V240.8 H216.8 V264.6 H220.1 V240.8 H221.8 V264.6 H227.7 V240.8 H229.3 V264.6 H233.2 V240.8 H235.0 V264.6 H235.8 V288.3 H238.7 V312.1 H239.8 V288.3 H240.9 V264.6 H244.6 V288.3 H251.2 V264.6 H252.5 V288.3 H256.2 V312.1 H261.2 V288.3 H262.1 V312.1 H263.4 V288.3 H264.3 V312.1 H265.4 V288.3 H271.5 V312.1 H275.9 V288.3 H280.6 V264.6 H281.3 V240.8 H283.9 V288.3 H285.6 V264.6 H287.2 V217.0 H290.2 V240.8 H290.9 V264.6 H291.9 V240.8 H296.1 V217.0 H298.7 V240.8 H301.6 V217.0 H306.7 V193.2 H311.4 V169.5 H334.7 V145.7 H338.8 V169.5 H354.0 V145.7 H364.1 V169.5 H373.8 V193.2 H374.9 V169.5 H383.6 V193.2 H388.0 V217.0 H389.1 V193.2 H391.0 V217.0 H392.3 V240.8 H393.7 V217.0 H395.0 V193.2 H398.8 V217.0 H401.8 V240.8 H403.5 V288.3 H405.8 V240.8 H406.9 V193.2 H411.2 V217.0 H415.6 V193.2 H424.0 V169.5 H440.9 V145.7 H442.8 V121.9 H443.6 V145.7 H444.4 V169.5 H446.6 V145.7 H462.9 V169.5 H468.6 V145.7 H475.6 V169.5 H480.3 V145.7 H484.3 V169.5 H496.6 V145.7 H498.2 V169.5 H502.3 V121.9 H504.6 V145.7 H518.2 V121.9 H538.6 V98.1 H545.4 V121.9 H550.8 V98.1 H551.9 V121.9 H562.5 V145.7 H566.8 V121.9 H571.4 V98.1 H579.0 V121.9 H581.9 V98.1 H582.5 V74.4 H583.2 V98.1 H585.5 V121.9 H591.0 V98.1 H592.4 V74.4 H603.5 V50.6 H606.2 V26.8 H606.8 V50.6 H614.6 V26.8 H616.2 V50.6 H622.5 V26.8 H642.0" stroke="#fb8a2e" stroke-width="0.85" fill="none" stroke-linejoin="round" clip-path="url(#c1)"/>
<path d="M47.6 581.7 H51.4 V546.0 H53.6 V581.7 H65.0 V617.3 H65.8 V581.7 H96.2 V617.3 H108.5 V581.7 H111.9 V617.3 H123.3 V653.0 H130.9 V617.3 H131.7 V653.0 H139.1 V688.6 H148.3 V653.0 H149.1 V688.6 H159.7 V724.3 H161.9 V688.6 H164.1 V724.3 H169.5 V688.6 H173.6 V724.3 H219.1 V688.6 H220.2 V724.3 H242.9 V688.6 H246.6 V724.3 H257.9 V688.6 H260.4 V724.3 H262.0 V688.6 H264.3 V724.3 H267.5 V688.6 H268.8 V724.3 H272.5 V688.6 H273.8 V724.3 H279.2 V688.6 H280.5 V724.3 H284.3 V688.6 H285.6 V724.3 H288.0 V688.6 H307.1 V724.3 H307.9 V688.6 H323.4 V653.0 H328.8 V617.3 H332.3 V581.7 H332.9 V617.3 H336.9 V581.7 H343.7 V546.0 H349.2 V581.7 H352.4 V546.0 H369.5 V510.3 H376.3 V546.0 H390.2 V581.7 H392.6 V617.3 H398.0 V581.7 H403.1 V546.0 H404.0 V510.3 H405.1 V546.0 H413.2 V510.3 H415.9 V474.7 H416.7 V510.3 H419.7 V546.0 H425.7 V510.3 H436.0 V546.0 H437.1 V510.3 H444.2 V546.0 H453.7 V510.3 H455.6 V546.0 H470.0 V510.3 H476.2 V546.0 H486.3 V510.3 H490.4 V546.0 H496.0 V510.3 H504.1 V546.0 H516.9 V510.3 H518.0 V546.0 H518.6 V510.3 H519.7 V546.0 H520.3 V510.3 H521.4 V546.0 H521.9 V510.3 H523.3 V546.0 H524.4 V510.3 H529.9 V546.0 H539.7 V510.3 H577.7 V546.0 H594.8 V510.3 H613.8 V474.7 H618.4 V510.3 H627.4 V439.0 H628.5 V474.7 H629.3 V510.3 H633.9" stroke="#fb8a2e" stroke-width="0.85" fill="none" stroke-linejoin="round" clip-path="url(#c2)"/>
<path d="M50.6 901.6 H51.5 V933.1 H62.7 V901.6 H65.8 V964.5 H69.0 V995.9 H70.2 V964.5 H78.8 V933.1 H82.8 V964.5 H84.1 V933.1 H88.5 V964.5 H90.4 V933.1 H92.3 V964.5 H92.9 V933.1 H96.0 V964.5 H115.4 V995.9 H124.8 V964.5 H126.7 V995.9 H145.2 V1027.4 H156.3 V1058.8 H180.7 V1090.3 H183.5 V1058.8 H193.5 V1090.3 H194.3 V1058.8 H195.1 V1090.3 H196.2 V1058.8 H198.7 V1090.3 H246.9 V1121.7 H248.0 V1090.3 H260.0 V1058.8 H267.0 V1090.3 H279.0 V1058.8 H289.6 V1027.4 H290.7 V1058.8 H294.2 V1027.4 H295.6 V995.9 H296.7 V1027.4 H302.9 V1058.8 H312.9 V1027.4 H314.2 V1058.8 H320.5 V1027.4 H321.8 V964.5 H333.0 V933.1 H379.3 V901.6 H383.8 V933.1 H386.3 V901.6 H420.3 V870.2 H422.4 V901.6 H423.7 V870.2 H430.6 V901.6 H434.5 V933.1 H443.7 V901.6 H452.7 V933.1 H460.9 V901.6 H468.2 V870.2 H469.0 V901.6 H487.9 V870.2 H492.6 V901.6 H493.8 V870.2 H495.2 V901.6 H496.9 V870.2 H498.7 V901.6 H506.4 V870.2 H513.7 V901.6 H515.9 V870.2 H518.1 V901.6 H547.7 V870.2 H548.8 V901.6 H561.3 V870.2 H563.6 V901.6 H564.6 V870.2 H566.4 V901.6 H567.3 V870.2 H575.4 V838.7 H583.6 V870.2 H595.2 V901.6 H598.6 V870.2 H600.3 V901.6 H604.1 V870.2 H608.5 V901.6 H623.6 V870.2 H631.7 V838.7 H632.5" stroke="#fb8a2e" stroke-width="0.85" fill="none" stroke-linejoin="round" clip-path="url(#c3)"/>
<g font-size="20.5" font-family="'Liberation Sans', Arial, sans-serif" fill="#000"><text x="24.3" y="367.1" font-weight="bold">a:</text><text x="46.7" y="367.1" textLength="255.8" lengthAdjust="spacingAndGlyphs">V1 (decompensated phase)</text></g>
<g font-size="20.5" font-family="'Liberation Sans', Arial, sans-serif" fill="#000"><text x="15.2" y="777.2" font-weight="bold">b:</text><text x="39.1" y="777.2" textLength="230.8" lengthAdjust="spacingAndGlyphs">V2 (compensated phase)</text></g>
<g font-size="20.5" font-family="'Liberation Sans', Arial, sans-serif" fill="#000"><text x="20.2" y="1171.2" font-weight="bold">c:</text><text x="41.8" y="1171.2" textLength="232.0" lengthAdjust="spacingAndGlyphs">V3 (compensated phase)</text></g>
</svg>
</body></html>
